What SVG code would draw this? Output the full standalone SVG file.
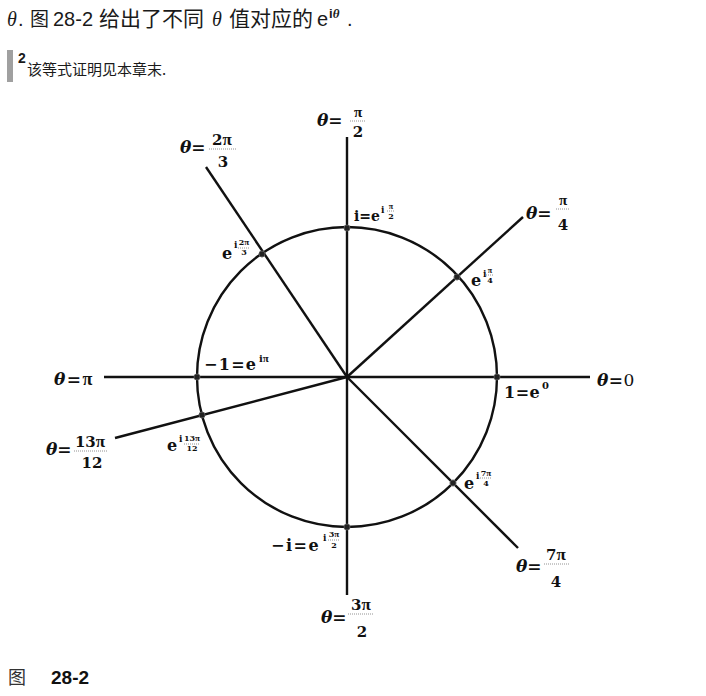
<svg xmlns="http://www.w3.org/2000/svg" width="706" height="696" viewBox="0 0 706 696">
<style>
.hdr{font-family:"Liberation Sans","Noto Sans CJK SC",sans-serif;font-size:20px;fill:#1a1a1a}
.cjk{font-family:"Noto Sans CJK SC","Liberation Sans",sans-serif}
.m{font-family:"DejaVu Serif","Liberation Serif",serif;font-weight:bold;fill:#111}
.pi{font-family:"Liberation Serif","DejaVu Serif",serif}
.big{font-size:17px}
.fr{font-size:15px}
.lbl{font-size:16px}
.sup{font-size:9px}
.tiny{font-size:8px}
.it{font-style:italic}
.bar{stroke:#777;stroke-width:0.8;stroke-dasharray:1 1}
.ray{stroke:#111;stroke-width:2.4;fill:none}
.dot{fill:#222;stroke:#555;stroke-width:1}
</style>
<rect width="706" height="696" fill="#fff"/>
<g id="header">
<text class="hdr" y="26"><tspan x="7" font-family="Liberation Serif" font-style="italic">θ</tspan><tspan x="18">.</tspan><tspan class="cjk" x="30" font-size="19">图</tspan><tspan x="53">28-2</tspan><tspan class="cjk" x="99" font-size="21">给出了不同</tspan><tspan x="212" font-family="Liberation Serif" font-style="italic">θ</tspan><tspan class="cjk" x="229" font-size="21">值对应的</tspan><tspan x="317">e</tspan><tspan x="329" y="18" font-size="13" font-weight="bold">i<tspan font-family="Liberation Serif" font-style="italic">θ</tspan></tspan><tspan x="347" y="26">.</tspan></text>
<rect x="7" y="50" width="6" height="32" fill="#a0a0a0"/>
<text x="18" y="63" font-family="Liberation Sans" font-size="14" font-weight="bold" fill="#1a1a1a">2</text>
<text x="27" y="75" font-family="Noto Sans CJK SC,Liberation Sans,sans-serif" font-size="15" fill="#1a1a1a">该等式证明见本章末.</text>
</g>
<g id="connectors">
<circle cx="347" cy="377" r="150" class="ray" stroke-width="2.2"/>
<line class="ray" x1="104" y1="377" x2="590" y2="377"/>
<line class="ray" x1="347" y1="137" x2="347" y2="595"/>
<line class="ray" x1="347" y1="377" x2="206" y2="167"/>
<line class="ray" x1="347" y1="377" x2="523" y2="217"/>
<line class="ray" x1="347" y1="377" x2="115" y2="438"/>
<line class="ray" x1="347" y1="377" x2="518" y2="548"/>
</g>
<g id="theta-pi-2">
<text class="m big" x="317" y="126"><tspan class="it">θ</tspan>=</text>
<text class="m fr pi" font-size="17" x="358" y="117" text-anchor="middle">π</text>
<line class="bar" x1="350" y1="121" x2="366" y2="121"/>
<text class="m fr" x="358" y="137" text-anchor="middle">2</text>
</g>
<g id="theta-2pi-3">
<text class="m big" x="180" y="153"><tspan class="it">θ</tspan>=</text>
<text class="m fr" x="222" y="145" text-anchor="middle">2<tspan class="pi" font-size="17">π</tspan></text>
<line class="bar" x1="209" y1="149" x2="236" y2="149"/>
<text class="m fr" x="223" y="167" text-anchor="middle">3</text>
</g>
<g id="theta-pi-4">
<text class="m big" x="526" y="219"><tspan class="it">θ</tspan>=</text>
<text class="m fr pi" font-size="17" x="563" y="205" text-anchor="middle">π</text>
<line class="bar" x1="556" y1="209" x2="570" y2="209"/>
<text class="m fr" x="563" y="230" text-anchor="middle">4</text>
</g>
<g id="theta-pi">
<text class="m big" x="54" y="385" letter-spacing="1.5"><tspan class="it">θ</tspan>=<tspan class="pi" font-size="18">π</tspan></text>
</g>
<g id="theta-0">
<text class="m big" x="597" y="386" letter-spacing="0.5"><tspan class="it">θ</tspan>=<tspan font-weight="normal">0</tspan></text>
</g>
<g id="theta-13pi-12">
<text class="m big" x="46" y="455"><tspan class="it">θ</tspan>=</text>
<text class="m fr" x="90" y="447" text-anchor="middle">13<tspan class="pi" font-size="17">π</tspan></text>
<line class="bar" x1="74" y1="451" x2="107" y2="451"/>
<text class="m fr" x="92" y="468" text-anchor="middle">12</text>
</g>
<g id="theta-3pi-2">
<text class="m big" x="321" y="623"><tspan class="it">θ</tspan>=</text>
<text class="m fr" x="361" y="610" text-anchor="middle">3<tspan class="pi" font-size="17">π</tspan></text>
<line class="bar" x1="348" y1="614" x2="374" y2="614"/>
<text class="m fr" x="362" y="637" text-anchor="middle">2</text>
</g>
<g id="theta-7pi-4">
<text class="m big" x="516" y="572"><tspan class="it">θ</tspan>=</text>
<text class="m fr" x="556" y="560" text-anchor="middle">7<tspan class="pi" font-size="17">π</tspan></text>
<line class="bar" x1="544" y1="564" x2="569" y2="564"/>
<text class="m fr" x="556" y="587" text-anchor="middle">4</text>
</g>
<g id="pt-i">
<circle class="dot" cx="347" cy="228" r="3"/>
<text class="m" font-size="14" x="354" y="221">i=e</text>
<text class="m sup" x="381" y="213">i</text>
<text class="m tiny pi" font-size="9" x="391" y="209" text-anchor="middle">π</text>
<line class="bar" x1="387" y1="211" x2="395" y2="211"/>
<text class="m tiny" x="391" y="219" text-anchor="middle">2</text>
</g>
<g id="pt-2pi-3">
<circle class="dot" cx="262" cy="254" r="3"/>
<text class="m lbl" x="222" y="259">e</text>
<text class="m sup" x="234" y="248">i</text>
<text class="m tiny" x="244" y="245" text-anchor="middle">2<tspan class="pi" font-size="9">π</tspan></text>
<line class="bar" x1="238" y1="248" x2="250" y2="248"/>
<text class="m tiny" x="244" y="255" text-anchor="middle">3</text>
</g>
<g id="pt-pi-4">
<circle class="dot" cx="457" cy="277" r="3"/>
<text class="m lbl" x="471" y="286">e</text>
<text class="m sup" x="483" y="277">i</text>
<text class="m tiny pi" font-size="9" x="490" y="273" text-anchor="middle">π</text>
<line class="bar" x1="486" y1="275" x2="494" y2="275"/>
<text class="m tiny" x="490" y="283" text-anchor="middle">4</text>
</g>
<g id="pt-minus1">
<circle class="dot" cx="197" cy="377" r="3"/>
<text class="m lbl" x="204" y="370" letter-spacing="1.3">−1=e</text>
<text class="m" font-size="10" x="259" y="362">i<tspan class="pi" font-size="11">π</tspan></text>
</g>
<g id="pt-1">
<circle class="dot" cx="497" cy="377" r="3"/>
<text class="m lbl" x="504" y="398" letter-spacing="0.5">1=e</text>
<text class="m" font-size="10" x="542" y="389">0</text>
</g>
<g id="pt-13pi-12">
<circle class="dot" cx="202" cy="415" r="3"/>
<text class="m lbl" x="167" y="451">e</text>
<text class="m sup" x="179" y="442">i</text>
<text class="m tiny" x="192" y="441" text-anchor="middle">13<tspan class="pi" font-size="9">π</tspan></text>
<line class="bar" x1="184" y1="444" x2="200" y2="444"/>
<text class="m tiny" x="192" y="451" text-anchor="middle">12</text>
</g>
<g id="pt-minus-i">
<circle class="dot" cx="347" cy="527" r="3"/>
<text class="m lbl" x="271" y="551" letter-spacing="1.5">−i=e</text>
<text class="m sup" x="323" y="541">i</text>
<text class="m tiny" x="334" y="537" text-anchor="middle">3<tspan class="pi" font-size="9">π</tspan></text>
<line class="bar" x1="328" y1="540" x2="340" y2="540"/>
<text class="m tiny" x="334" y="548" text-anchor="middle">2</text>
</g>
<g id="pt-7pi-4">
<circle class="dot" cx="453" cy="483" r="3"/>
<text class="m lbl" x="464" y="489">e</text>
<text class="m sup" x="476" y="479">i</text>
<text class="m tiny" x="486" y="476" text-anchor="middle">7<tspan class="pi" font-size="9">π</tspan></text>
<line class="bar" x1="480" y1="478" x2="492" y2="478"/>
<text class="m tiny" x="486" y="486" text-anchor="middle">4</text>
</g>
<g id="caption">
<text x="8" y="684" font-family="Noto Sans CJK SC,sans-serif" font-size="18" fill="#333">图</text>
<text x="51" y="684" font-family="Liberation Sans,sans-serif" font-size="19" font-weight="bold" fill="#111">28-2</text>
</g>
</svg>
